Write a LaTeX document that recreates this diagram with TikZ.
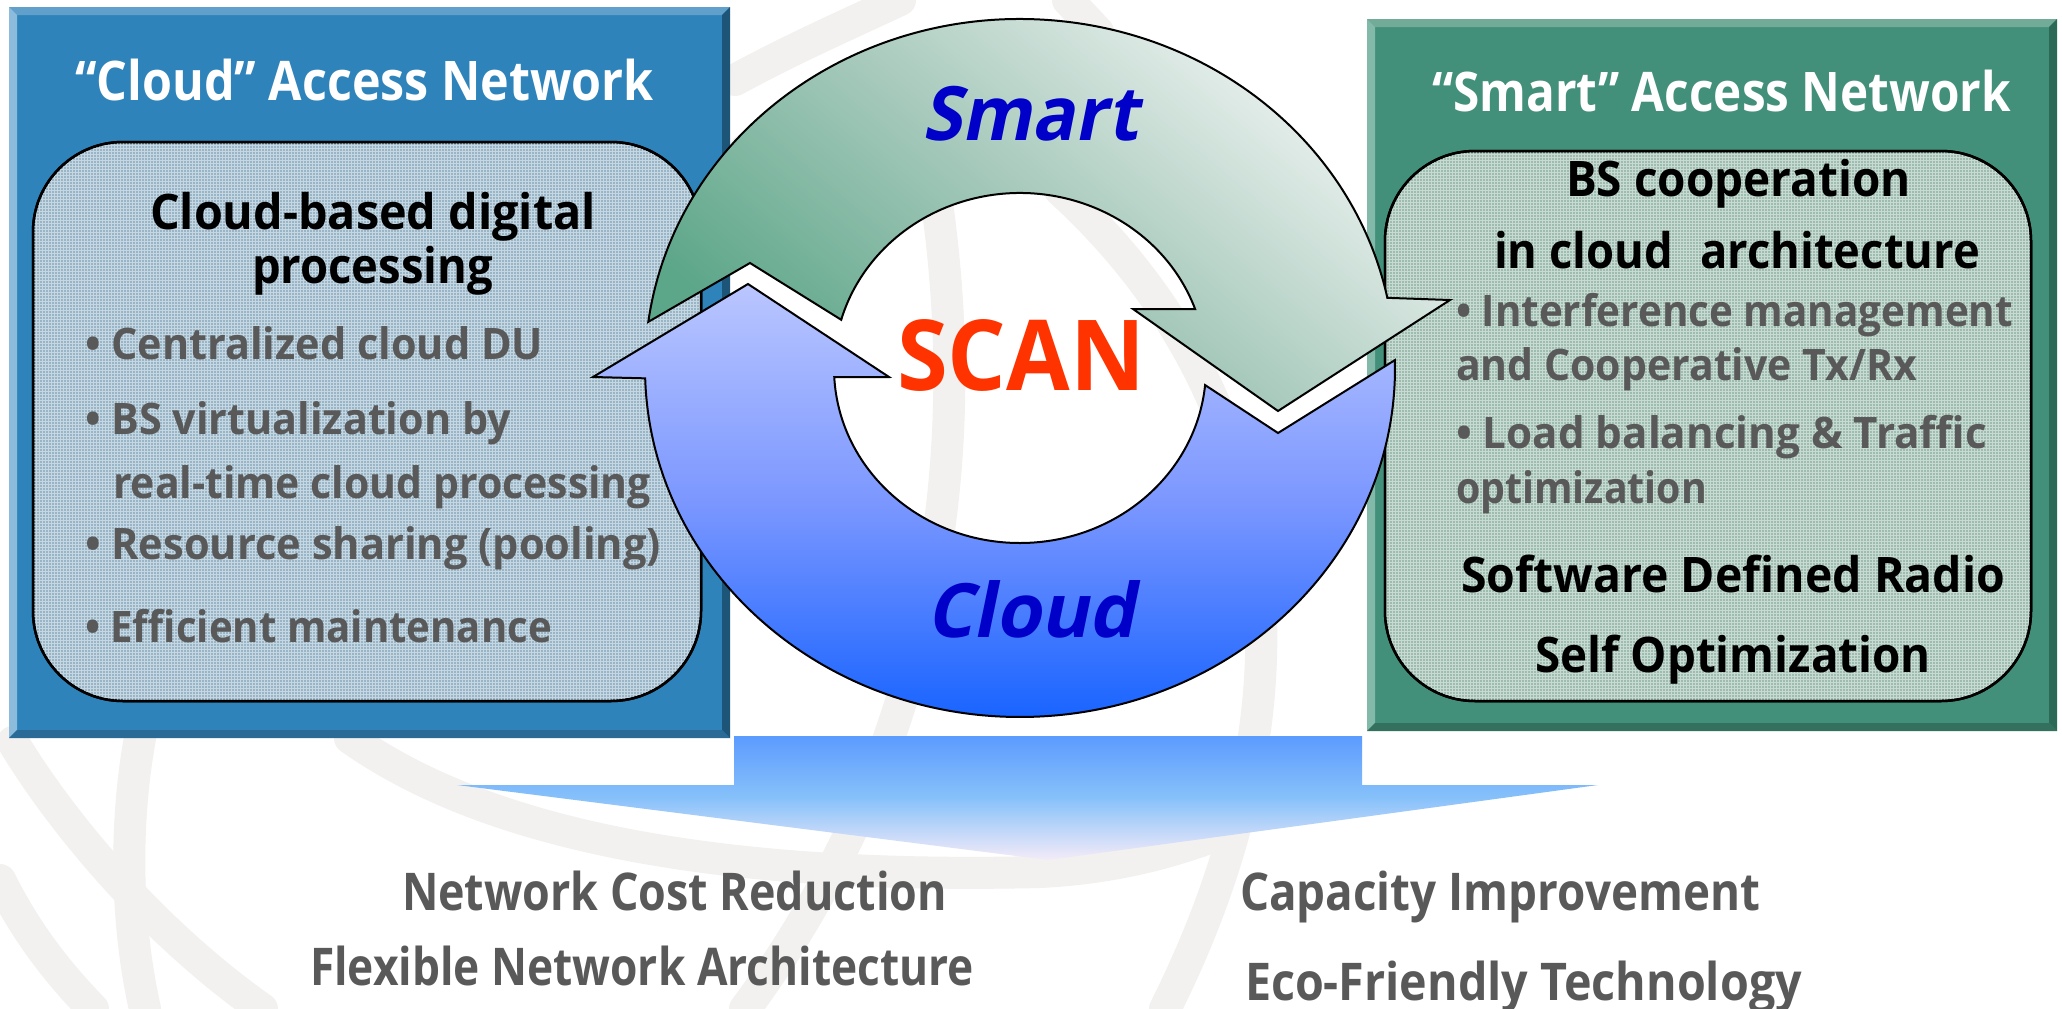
\documentclass[tikz,border=0pt]{standalone}
\usepackage{fontspec}
\setmainfont{Open Sans}
\newfontfamily\obliquefont[FakeSlant=0.21]{Open Sans}
\usetikzlibrary{calc,patterns}

% palette
\definecolor{swirl}{HTML}{F2F1EF}
\definecolor{cloudbox}{HTML}{2E84BA}
\definecolor{cloudtop}{HTML}{62A0CC}
\definecolor{cloudleft}{HTML}{8CBBDC}
\definecolor{cloudright}{HTML}{1D5579}
\definecolor{cloudbottom}{HTML}{2A6A96}
\definecolor{cloudpanel}{HTML}{98B4C7}
\definecolor{cloudgrid}{HTML}{C6D7E2}
\definecolor{smartbox}{HTML}{43907A}
\definecolor{smarttop}{HTML}{72AC98}
\definecolor{smartleft}{HTML}{82B9A8}
\definecolor{smartright}{HTML}{2C6A57}
\definecolor{smartbottom}{HTML}{34705E}
\definecolor{smartpanel}{HTML}{9BBCAF}
\definecolor{smartgrid}{HTML}{C8DAD2}
\definecolor{bodygray}{HTML}{595959}
\definecolor{ringlabel}{HTML}{0000C8}
\definecolor{scanred}{HTML}{FF3300}
\definecolor{arcgreendark}{HTML}{5CA689}
\definecolor{arcgreenmid}{HTML}{AACBBE}
\definecolor{arcgreenlight}{HTML}{F6F8F7}
\definecolor{arcbluetop}{HTML}{BAC6FF}
\definecolor{arcbluemid}{HTML}{7B97FF}
\definecolor{arcbluebottom}{HTML}{1763FF}
\definecolor{downtop}{HTML}{5C9BFF}
\definecolor{downmid}{HTML}{87C1FA}
\definecolor{downbottom}{HTML}{F4EBF8}

% set a line of text at a given width
\newsavebox\linebox
\newcommand\fitw[2]{\sbox\linebox{#2}\pgfmathsetmacro\linescale{#1/\the\wd\linebox}\scalebox{\linescale}[1]{\usebox\linebox}}

\tikzset{
  textline/.style={anchor=base west, inner sep=0pt, outer sep=0pt},
  paneltitle/.style={textline, text=white, font=\bfseries\fontsize{54.6}{62}\selectfont},
  panelhead/.style={textline, text=black, font=\bfseries\fontsize{49}{56}\selectfont},
  panelitem/.style={textline, text=bodygray, font=\bfseries\fontsize{43.4}{50}\selectfont},
  ringword/.style={textline, text=ringlabel, font=\obliquefont\bfseries\fontsize{75}{80}\selectfont},
  hubword/.style={textline, text=scanred, font=\bfseries\fontsize{98}{100}\selectfont},
  benefit/.style={textline, text=bodygray, font=\bfseries\fontsize{52}{58}\selectfont},
  swirlband/.style={draw=swirl, line width=32pt, line cap=round},
  outline/.style={draw=black, line width=2pt},
  panel/.style={outline, line width=2.5pt, rounded corners=90pt},
}

\begin{document}
\begin{tikzpicture}[x=1pt,y=-1pt]
\useasboundingbox (0,0) rectangle (2062,1009);
\fill[white] (0,0) rectangle (2062,1009);

% faint globe lines in the background
\path[swirlband] (140,738) .. controls (125,820) and (125,920) .. (145,1009);
\path[swirlband] (13,742) .. controls (60,820) and (150,930) .. (262,1009);
\path[swirlband] (0,880) .. controls (25,930) and (55,970) .. (93,1009);
\path[swirlband] (350,738) .. controls (480,830) and (700,880) .. (1040,872)
                 .. controls (1120,868) and (1180,850) .. (1230,830);
\path[swirlband] (935,190) .. controls (985,520) and (900,800) .. (745,1009);
\path[swirlband] (1060,190) .. controls (1290,400) and (1320,700) .. (1165,1009);
\path[swirlband] (735,80) .. controls (790,50) and (840,28) .. (900,0);
\path[swirlband] (745,150) .. controls (800,120) and (860,100) .. (950,80);
\path[swirlband] (1068,0) -- (1098,32);

% result arrow pointing down to the benefits
\shade[top color=downtop, bottom color=downbottom, middle color=downmid]
  (734,736) -- (1362,736) -- (1362,785) -- (1598,785) -- (1048,860)
  -- (457,785) -- (734,785) -- cycle;

% "Cloud" access network box with bevelled frame
\fill[cloudbox] (9,7) rectangle (730,738);
\fill[cloudtop] (9,7) -- (730,7) -- (722,15) -- (17,15) -- cycle;
\fill[cloudleft] (9,7) -- (17,15) -- (17,730) -- (9,738) -- cycle;
\fill[cloudright] (730,7) -- (730,738) -- (722,730) -- (722,15) -- cycle;
\fill[cloudbottom] (9,738) -- (730,738) -- (722,730) -- (17,730) -- cycle;
\path[panel, fill=cloudpanel] (33,142) rectangle (701,701);
\fill[pattern=grid, pattern color=cloudgrid, rounded corners=90pt] (34,143) rectangle (700,700);
\draw[panel] (33,142) rectangle (701,701);

% "Smart" access network box with bevelled frame
\fill[smartbox] (1367,19) rectangle (2057,731);
\fill[smarttop] (1367,19) -- (2057,19) -- (2049,27) -- (1375,27) -- cycle;
\fill[smartleft] (1367,19) -- (1375,27) -- (1375,723) -- (1367,731) -- cycle;
\fill[smartright] (2057,19) -- (2057,731) -- (2049,723) -- (2049,27) -- cycle;
\fill[smartbottom] (1367,731) -- (2057,731) -- (2049,723) -- (1375,723) -- cycle;
\path[panel, fill=smartpanel] (1385,151) rectangle (2031,701);
\fill[pattern=grid, pattern color=smartgrid, rounded corners=90pt] (1386,152) rectangle (2030,700);
\draw[panel] (1385,151) rectangle (2031,701);

% left panel text
\node[paneltitle] (cloudtitle) at (75,100) {\fitw{579}{“Cloud” Access Network}};
\node[panelhead] (cloudheadA) at (150,229) {\fitw{446}{Cloud-based digital}};
\node[panelhead] (cloudheadB) at (252,283) {\fitw{241}{processing}};
\node[panelitem] (cloudA) at (85,359) {\fitw{458}{• Centralized cloud DU}};
\node[panelitem] (cloudB) at (85,434) {\fitw{426}{• BS virtualization by}};
\node[panelitem] (cloudBb) at (113,498) {\fitw{538}{real-time cloud processing}};
\node[panelitem] (cloudC) at (85,559) {\fitw{576}{• Resource sharing (pooling)}};
\node[panelitem] (cloudD) at (85,642) {\fitw{467}{• Efficient maintenance}};

% right panel text
\node[paneltitle] (smarttitle) at (1432,111) {\fitw{579}{“Smart” Access Network}};
\node[panelhead] (smartheadA) at (1566,196) {\fitw{345}{BS cooperation}};
\node[panelhead] (smartheadB) at (1494,268) {\fitw{486}{in cloud\hspace{0.6em}architecture}};
\node[panelitem] (smartA) at (1456,326) {\fitw{557}{• Interference management}};
\node[panelitem] (smartAb) at (1456,380) {\fitw{461}{and Cooperative Tx/Rx}};
\node[panelitem] (smartB) at (1456,448) {\fitw{531}{• Load balancing \& Traffic}};
\node[panelitem] (smartBb) at (1456,503) {\fitw{251}{optimization}};
\node[panelhead] (smartheadC) at (1461,592) {\fitw{544}{Software Defined Radio}};
\node[panelhead] (smartheadD) at (1535,672) {\fitw{396}{Self Optimization}};

% the SCAN cycle: two curved arrows round a common centre
\coordinate (hub) at (1020,368);
\draw[outline, top color=arcgreenlight, bottom color=arcgreendark, middle color=arcgreenmid, shading angle=-40]
  ($(hub)+(187.6:375 and 349)$) arc[start angle=187.6, end angle=348.4, x radius=375, y radius=349]
  -- (1450,300) -- (1278,411) -- (1133,309)
  -- ($(hub)+(340.3:186 and 175)$) arc[start angle=340.3, end angle=196, x radius=186, y radius=175]
  -- (750,263) -- cycle;
\draw[outline, top color=arcbluetop, bottom color=arcbluebottom, middle color=arcbluemid]
  ($(hub)+(-1.3:375 and 349)$) arc[start angle=-1.3, end angle=178.3, x radius=375, y radius=349]
  -- (593,377) -- (748,284) -- (889,377)
  -- ($(hub)+(177:186 and 175)$) arc[start angle=177, end angle=5.6, x radius=186, y radius=175]
  -- (1278,433) -- cycle;

\node[ringword] (smartword) at (922,140) {\fitw{216}{Smart}};
\node[ringword] (cloudword) at (926,637) {\fitw{209}{Cloud}};
\node[hubword] (scan) at (897,390) {\fitw{248}{SCAN}};

% benefits
\node[benefit] (costs) at (402,910) {\fitw{545}{Network Cost Reduction}};
\node[benefit] (flex) at (310,985) {\fitw{664}{Flexible Network Architecture}};
\node[benefit] (capacity) at (1240,910) {\fitw{520}{Capacity Improvement}};
\node[benefit] (eco) at (1245,1000) {\fitw{557}{Eco-Friendly Technology}};
\end{tikzpicture}
\end{document}
